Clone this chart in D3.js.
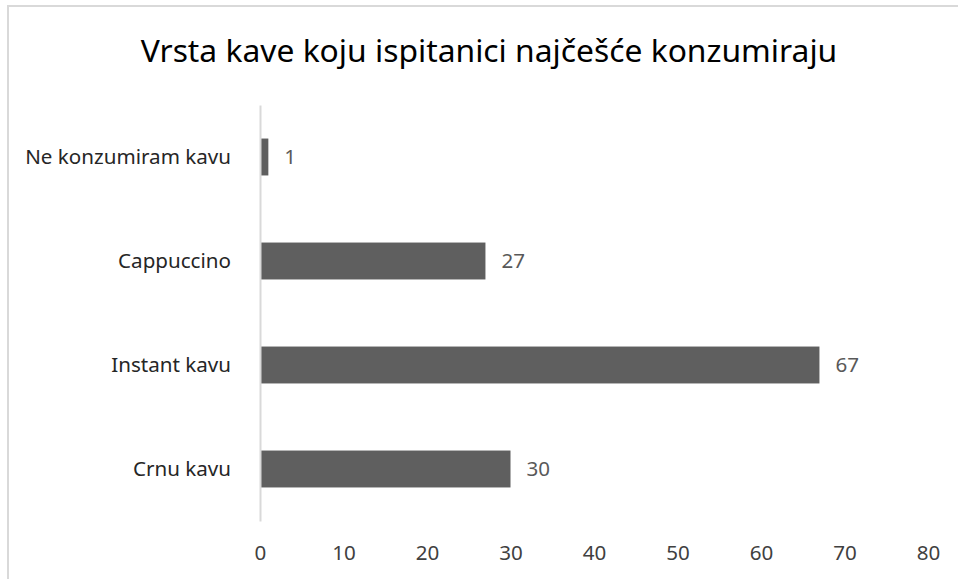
<!DOCTYPE html>
<html>
<head>
<meta charset="utf-8">
<script src="https://cdn.jsdelivr.net/npm/d3@7"></script>
<style>
  body { margin: 0; background: #fff; }
  text { font-family: "Noto Sans", "Open Sans", sans-serif; }
</style>
</head>
<body>
<div id="chart"></div>
<script>
// data
const categories = ["Ne konzumiram kavu", "Cappuccino", "Instant kavu", "Crnu kavu"];
const values = [1, 27, 67, 30];
const xTicks = [0, 10, 20, 30, 40, 50, 60, 70, 80];
const chartTitle = "Vrsta kave koju ispitanici najčešće konzumiraju";

const width = 958;
const height = 579;

const X0 = 260;
const X1 = 928;
const Y0 = 105;
const Y1 = 521;

const BAR_COLOR = "#5f5f5f";
const LABEL_COLOR = "#595959";
const TEXT_COLOR = "#262626";
const AXIS_COLOR = "#d9d9d9";
const FONT_SIZE = "20.6px";

const svg = d3.select("#chart")
  .append("svg")
  .attr("width", width)
  .attr("height", height);

// chart border (only top/left visible in the crop)
svg.append("path")
  .attr("d", `M8,${height} L8,6 L${width},6`)
  .attr("fill", "none")
  .attr("stroke", AXIS_COLOR)
  .attr("stroke-width", 2);

const x = d3.scaleLinear().domain([0, 80]).range([X0, X1]);
const y = d3.scaleBand().domain(categories).range([Y0, Y1]).paddingInner(0.645).paddingOuter(0.3225);

// title
svg.append("text")
  .attr("x", 489)
  .attr("y", 62)
  .attr("text-anchor", "middle")
  .style("font-size", "31.8px")
  .style("fill", "#000")
  .text(chartTitle);

// bars
svg.append("g")
  .selectAll("rect")
  .data(values)
  .enter()
  .append("rect")
  .attr("x", x(0))
  .attr("y", (d, i) => y(categories[i]))
  .attr("width", (d) => x(d) - x(0))
  .attr("height", y.bandwidth())
  .attr("fill", BAR_COLOR);

// value labels
svg.append("g")
  .selectAll("text")
  .data(values)
  .enter()
  .append("text")
  .attr("x", (d) => x(d) + 16)
  .attr("y", (d, i) => y(categories[i]) + y.bandwidth() / 2)
  .attr("dy", "0.35em")
  .style("font-size", FONT_SIZE)
  .style("fill", LABEL_COLOR)
  .text((d) => d);

// category axis
const yAxis = svg.append("g")
  .attr("transform", `translate(${X0},0)`)
  .call(d3.axisLeft(y).tickSize(0).tickPadding(29));
yAxis.select(".domain").attr("stroke", AXIS_COLOR).attr("stroke-width", 2);
yAxis.selectAll("text")
  .style("font-size", FONT_SIZE)
  .style("fill", TEXT_COLOR)
  .style("font-family", "'Noto Sans', sans-serif");

// value axis (labels only)
const xAxis = svg.append("g")
  .attr("transform", `translate(0,${Y1})`)
  .call(d3.axisBottom(x).tickValues(xTicks).tickSize(0).tickPadding(24));
xAxis.select(".domain").remove();
xAxis.selectAll("text")
  .style("font-size", FONT_SIZE)
  .style("fill", "#404040")
  .style("font-family", "'Noto Sans', sans-serif");
</script>
</body>
</html>
